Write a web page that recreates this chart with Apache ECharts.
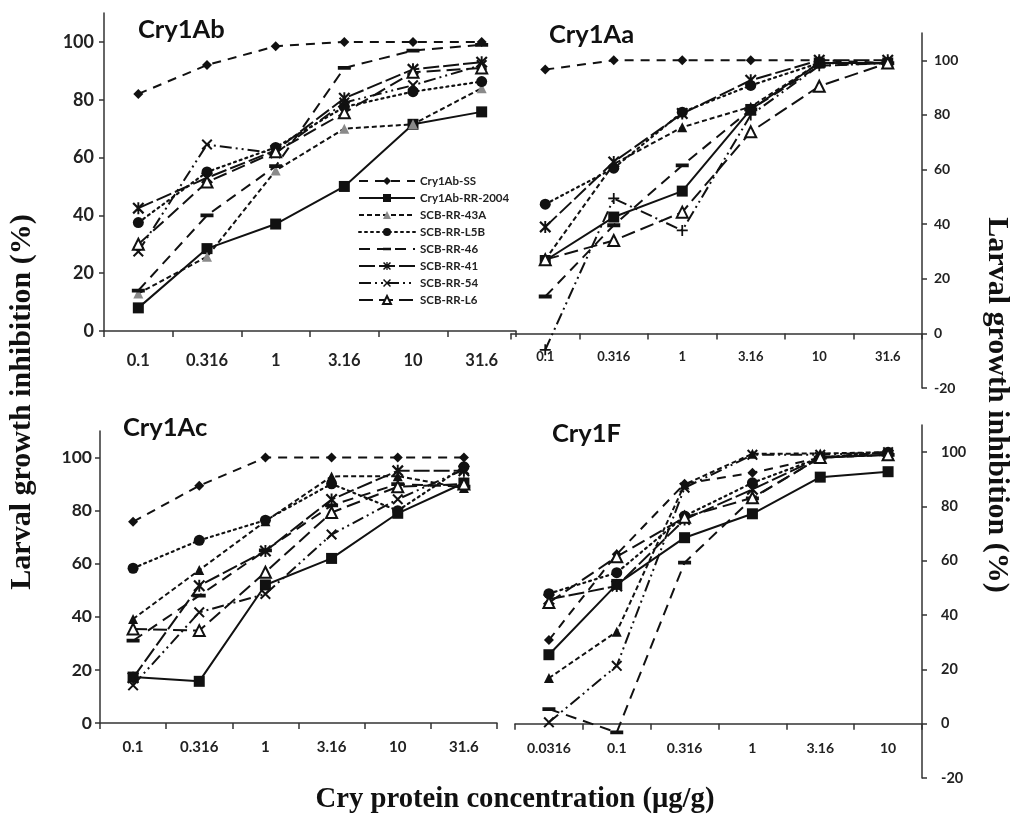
<!DOCTYPE html>
<html><head><meta charset="utf-8">
<script src="https://cdn.jsdelivr.net/npm/echarts@6/dist/echarts.min.js"></script>
<style>html,body{margin:0;padding:0;background:#fff}#c{width:1016px;height:814px}</style>
</head><body><div id="c"></div>
<script>
// ---- categories ----
const catsA = ['0.1','0.316','1','3.16','10','31.6'];
const catsF = ['0.0316','0.1','0.316','1','3.16','10'];
const seriesNames = ['Cry1Ab-SS','Cry1Ab-RR-2004','SCB-RR-43A','SCB-RR-L5B','SCB-RR-46','SCB-RR-41','SCB-RR-54','SCB-RR-L6'];
const yTicks = [0,20,40,60,80,100];
const yTicksNeg = [-20,0,20,40,60,80,100];

// ---- Cry1Ab ----
const ab_SS     = [82, 92, 98.5, 100, 100, 100];
const ab_RR2004 = [8, 28.5, 37, 50, 71.5, 75.8];
const ab_43A    = [13, 25.7, 55.5, 70, 71.5, 84];
const ab_L5B    = [37.5, 55, 63.5, 77.5, 82.8, 86.3];
const ab_46     = [14, 40, 57, 91, 97, 99];
const ab_41     = [42.5, 53, 62.5, 80.5, 90.5, 93];
const ab_54     = [27.5, 64.5, 61.5, 79, 85, 92];
const ab_L6     = [30, 51.5, 62, 75.5, 89.5, 91];
// ---- Cry1Aa ----
const aa_SS     = [96.6, 100, 100, 100, 100, 99];
const aa_RR2004 = [26.7, 42.6, 52.1, 82, 99, 99];
const aa_43A    = [27, 62, 75.5, 83, 99, 99];
const aa_L5B    = [47.3, 60.5, 81, 90.8, 99, 99];
const aa_46     = [13.5, 39.6, 61.5, 82, 98, 99];
const aa_41     = [39, 62.8, 80.5, 92.7, 100, 100];
const aa_54     = [-6, 49.4, 37.7, 80, 98, 99];
const aa_L6     = [27, 34, 44.4, 73.8, 90.5, 99];
// ---- Cry1Ac ----
const ac_SS     = [75.8, 89.4, 100, 100, 100, 100];
const ac_RR2004 = [17.3, 15.7, 52, 62, 79, 90.4];
const ac_43A    = [39.2, 57.6, 76, 92.9, 93, 88.5];
const ac_L5B    = [58.3, 68.8, 76.4, 90.1, 80, 96.5];
const ac_46     = [31, 48, 65, 82, 90, 89];
const ac_41     = [17, 51.7, 64.8, 84.2, 95, 95];
const ac_54     = [14.2, 41.7, 48.6, 71, 84.3, 95.5];
const ac_L6     = [35.4, 34.8, 56.8, 79.3, 89, 90];
// ---- Cry1F ----
const f_SS      = [30.8, 62.4, 88.4, 92.4, 98, 100];
const f_RR2004  = [25.4, 51.3, 68.5, 77.3, 90.8, 92.8];
const f_43A     = [16.8, 33.9, 88.1, 99.4, 99.5, 100];
const f_L5B     = [47.9, 55.6, 76.5, 88.7, 98, 100];
const f_46      = [5.4, -3.2, 59.3, 83, 98, 99];
const f_41      = [45.8, 50.7, 75.2, 86.3, 98, 99];
const f_54      = [0.5, 21.3, 86.9, 99, 99, 100];
const f_L6      = [44.6, 61.5, 76, 83.2, 98, 99];

const panelData = [
  [ab_SS, ab_RR2004, ab_43A, ab_L5B, ab_46, ab_41, ab_54, ab_L6],
  [aa_SS, aa_RR2004, aa_43A, aa_L5B, aa_46, aa_41, aa_54, aa_L6],
  [ac_SS, ac_RR2004, ac_43A, ac_L5B, ac_46, ac_41, ac_54, ac_L6],
  [f_SS, f_RR2004, f_43A, f_L5B, f_46, f_41, f_54, f_L6]
];
const panelTitles = ['Cry1Ab','Cry1Aa','Cry1Ac','Cry1F'];

// ---- styles ----
const INK = '#111';
const X_PATH = 'path://M0,1.3L1.3,0L10,8.7L8.7,10Z M8.7,0L10,1.3L1.3,10L0,8.7Z';
const AST_PATH = 'path://M0,1.3L1.3,0L10,8.7L8.7,10Z M8.7,0L10,1.3L1.3,10L0,8.7Z M4.2,0L5.8,0L5.8,10L4.2,10Z';
const PLUS_PATH = 'path://M4.2,0L5.8,0L5.8,10L4.2,10Z M0,4.2L10,4.2L10,5.8L0,5.8Z';
const BAR_PATH = 'path://M0,0L0.01,0L0,0.01Z M0,4.6L13,4.6L13,8.4L0,8.4Z M13,13L12.99,13L13,12.99Z';
const styles = [
  {symbol:'diamond', size:10, dash:[9,7], width:2},
  {symbol:'rect', size:11, dash:'solid', width:2},
  {symbol:'triangle', size:10, dash:[5,3], width:2},
  {symbol:'circle', size:11, dash:[2,4], width:2.2},
  {symbol:BAR_PATH, size:13, dash:[11,7], width:2},
  {symbol:AST_PATH, size:12, dash:[16,4], width:2},
  {symbol:X_PATH, size:11, dash:[12,4,2,4,2,4], width:2},
  {symbol:'emptyTriangle', size:11, dash:[14,6], width:2}
];

const grids = [
  {left:104, top:13, width:412, height:318},
  {left:511, top:33, width:411, height:355},
  {left:100, top:431, width:397, height:292},
  {left:515, top:425, width:407, height:353}
];
const xFont = [16.5, 13, 15, 14];
const xMargin = [21, 17, 17, 18];
const yFont = [18, 14, 17.5, 14.5];
const yMargin = [10, 12, 8, 19];
const LBL = 'Lato, "DejaVu Sans", sans-serif';

const xAxes = grids.map((g,i)=>{
  const right = (i===1 || i===3);
  return {
    type:'category', gridIndex:i, data: i===3 ? catsF : catsA, boundaryGap:true,
    offset: right ? -(g.height*20/130) : 0,
    axisLine:{onZero:false, lineStyle:{color:'#333', width:1.5}},
    axisTick:{show:true, inside:false, length:6, lineStyle:{color:'#333', width:1.5}},
    axisLabel:{color:'#222', fontFamily:LBL, fontWeight:'bold', fontSize:xFont[i], margin:xMargin[i], interval:0},
    splitLine:{show:false}
  };
});
const yAxes = grids.map((g,i)=>{
  const right = (i===1 || i===3);
  return {
    type:'value', gridIndex:i, position: right ? 'right' : 'left',
    min: right ? -20 : 0, max:110, interval:20,
    axisLine:{show:true, onZero:false, lineStyle:{color:'#333', width:1.5}},
    axisTick:{show:true, length:5, lineStyle:{color:'#333', width:1.5}, customValues: right ? yTicksNeg : yTicks},
    axisLabel:{color:'#222', fontFamily:LBL, fontWeight:'bold', fontSize:yFont[i], margin:yMargin[i],
               customValues: right ? yTicksNeg : yTicks},
    splitLine:{show:false}
  };
});

const series = [];
panelData.forEach((arr, p)=>{
  arr.forEach((vals, s)=>{
    const st = styles[s];
    let color = INK;
    if (p===0 && s===2) color = '#8a8a8a';
    let sym = st.symbol;
    if (p===1 && s===6) sym = PLUS_PATH;
    series.push({
      type:'line', name: seriesNames[s], xAxisIndex:p, yAxisIndex:p,
      data: vals, symbol: sym, symbolSize: st.size, showAllSymbol:true,
      lineStyle:{color:INK, width:st.width, type:st.dash, cap: s===3 ? 'round':'butt'},
      itemStyle:{color: color, borderColor: (s===7 ? INK : color), borderWidth: (s===7 ? 1.3 : 0)},
      emphasis:{disabled:true}, animation:false, z: 3 + s
    });
  });
});

const titleGraphics = [
  {x:138, y:30}, {x:549, y:35}, {x:123, y:428}, {x:552, y:434}
].map((pos,i)=>({
  type:'text', x:pos.x, y:pos.y,
  style:{text:panelTitles[i], font:'bold 25.5px Lato, sans-serif', fill:'#111', textVerticalAlign:'middle'}
}));

const SERIF_Y = 'bold 30px "Liberation Serif", "DejaVu Serif", serif';
const SERIF_X = 'bold 28.7px "Liberation Serif", "DejaVu Serif", serif';
const chart = echarts.init(document.getElementById('c'), null, {renderer:'canvas'});
chart.setOption({
  backgroundColor:'#fff',
  animation:false,
  grid: grids.map(g=>Object.assign({containLabel:false, outerBoundsMode:'none'}, g)),
  xAxis: xAxes,
  yAxis: yAxes,
  legend:{
    show:true, data: seriesNames, left:353, top:170, orient:'vertical',
    itemWidth:56, itemHeight:10, itemGap:5, selectedMode:false,
    textStyle:{fontFamily:LBL, fontWeight:'bold', fontSize:11.5, color:'#222', padding:[0,0,0,0]}
  },
  series: series,
  graphic: titleGraphics.concat([
    {type:'text', x:22, y:402, rotation:Math.PI/2,
     style:{text:'Larval growth inhibition (%)', font:SERIF_Y, fill:'#111', textAlign:'center', textVerticalAlign:'middle'}},
    {type:'text', x:997, y:405, rotation:-Math.PI/2,
     style:{text:'Larval growth inhibition (%)', font:SERIF_Y, fill:'#111', textAlign:'center', textVerticalAlign:'middle'}},
    {type:'text', x:515, y:800,
     style:{text:'Cry protein concentration (\u03bcg/g)', font:SERIF_X, fill:'#111', textAlign:'center', textVerticalAlign:'middle'}}
  ])
});
</script>
</body></html>
